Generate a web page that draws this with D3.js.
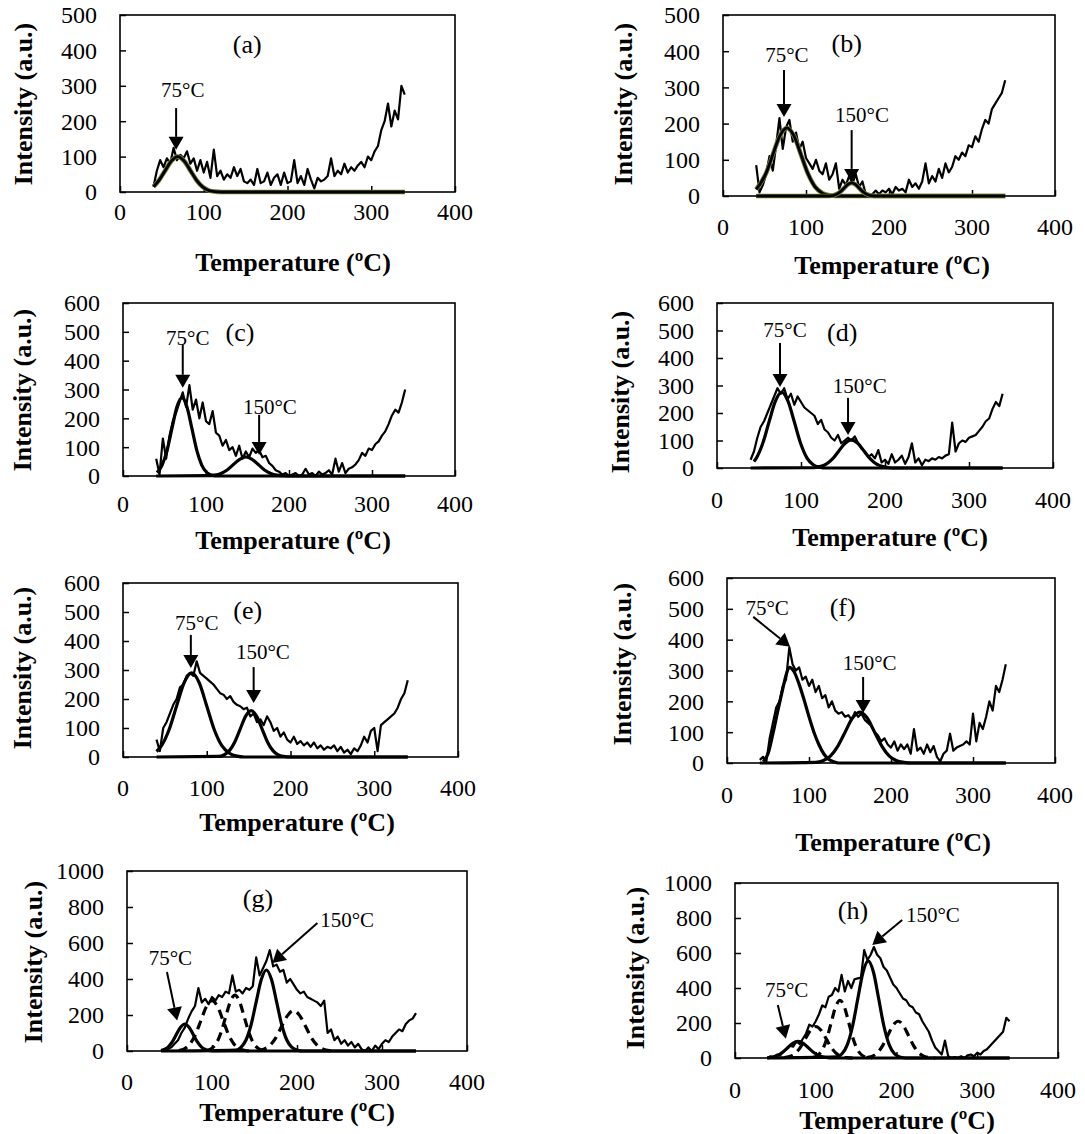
<!DOCTYPE html>
<html>
<head>
<meta charset="utf-8">
<title>TPD panels</title>
<script src="https://cdn.jsdelivr.net/npm/d3@7"></script>
<style>
  body { margin: 0; background: #fff; }
</style>
</head>
<body>
<svg id="chart" width="1085" height="1134" font-family="Liberation Serif"></svg>
<script>
// temperature grid (ºC) shared by all measured traces
var temperature = [
  40,44,48,52,56,60,64,68,72,76,80,84,88,92,96,100,104,108,112,
  116,120,124,128,132,136,140,144,148,152,156,160,164,168,172,176,180,184,188,
  192,196,200,204,208,212,216,220,224,228,232,236,240,244,248,252,256,260,264,
  268,272,276,280,284,288,292,296,300,304,308,312,316,320,324,328,332,336,340];

var xTicks = [0, 100, 200, 300, 400];
var yTicks500 = [0, 100, 200, 300, 400, 500];
var yTicks600 = [0, 100, 200, 300, 400, 500, 600];
var yTicks1000 = [0, 200, 400, 600, 800, 1000];

// measured intensity (a.u.)
var intensityA = [
  15,60,90,70,95,80,125,90,105,95,115,80,95,60,90,55,85,40,120,
  45,60,35,50,40,70,45,65,30,25,35,20,65,25,30,55,20,40,50,
  20,55,25,30,90,25,45,20,65,35,10,40,30,35,45,95,45,60,50,
  80,55,70,60,75,85,70,100,90,115,130,175,200,250,185,230,205,300,275];
var intensityB = [
  85,10,30,60,110,70,140,215,130,190,210,150,175,130,150,105,90,75,100,
  70,60,90,45,60,90,20,45,30,55,35,60,25,40,5,0,5,15,5,
  15,10,20,5,25,15,20,10,45,25,35,20,40,90,35,55,40,75,50,
  90,65,80,110,100,120,110,140,135,165,150,185,210,200,240,255,270,285,320];
var intensityC = [
  60,5,130,60,140,190,220,255,290,240,315,230,265,200,255,190,180,225,150,
  140,105,125,90,100,70,105,60,85,65,95,80,90,65,70,45,35,20,15,
  5,10,0,5,10,0,5,25,5,10,0,15,5,10,20,5,60,15,45,
  10,25,30,40,55,80,70,95,90,110,120,140,155,180,210,230,220,255,300];
var intensityD = [
  30,60,110,150,170,200,230,260,290,270,290,250,270,230,260,240,220,210,200,
  190,160,175,140,130,110,100,120,90,100,110,100,115,90,70,60,40,50,35,
  65,20,30,15,50,20,30,45,15,40,90,20,35,10,30,25,35,30,40,
  35,45,50,165,60,90,100,95,110,115,120,135,150,170,180,215,240,225,270];
var intensityE = [
  60,20,100,120,150,180,200,240,250,280,290,280,330,290,280,270,260,250,235,
  220,215,200,210,190,180,175,165,170,140,150,120,130,110,140,120,90,100,70,
  85,60,50,70,45,55,40,50,35,50,30,40,25,35,30,40,20,35,15,
  25,10,30,20,40,70,50,90,100,20,110,120,130,140,150,170,200,220,265];
var intensityF = [
  10,20,5,80,130,180,200,250,270,375,320,300,310,270,280,250,270,230,250,
  210,220,180,200,170,160,165,150,155,140,165,150,160,140,130,120,100,90,70,
  80,60,50,70,40,60,45,60,30,110,40,50,30,60,35,55,20,5,30,
  40,95,40,50,55,60,70,60,160,70,130,110,150,200,170,250,230,270,320];
var intensityG = [
  0,5,10,20,40,60,100,130,180,220,250,350,270,290,260,300,280,310,300,
  330,320,420,330,340,320,350,340,360,520,420,460,500,560,470,480,440,450,380,
  400,370,340,320,330,300,290,280,270,250,280,100,120,60,80,40,60,30,50,
  20,40,10,0,20,0,30,10,40,60,50,80,100,120,110,150,170,180,210];
var intensityH = [
  0,10,5,20,15,35,50,70,65,95,80,110,140,190,180,210,250,300,290,
  350,360,400,380,475,380,440,400,450,455,460,617,560,590,634,590,570,520,500,
  460,420,400,370,340,330,300,290,260,250,210,180,150,100,60,40,20,100,10,
  0,5,0,10,0,15,20,10,30,20,40,50,70,90,110,130,150,230,210];

// fitted peaks: [temperature, intensity]
var fitA = [[40,15],[46.5,33],[54,61],[61.5,88],[69,100],[76.5,88],[84,61],[91.5,33],[99,14],[106.5,4],[114,1],[122,0],[340,0]];
var fitB1 = [[40,18],[51.5,61],[60,114],[68.5,166],[77,188],[85.5,166],[94,114],[102.5,61],[111,25],[119.5,8],[128,2],[136,0],[340,0]];
var fitB2 = [[40,0],[128,0],[137,5],[141.5,12],[146,22],[150.5,32],[155,36],[159.5,32],[164,22],[168.5,12],[173,5],[182,0],[340,0]];
var fitC1 = [[41,12],[47,37],[53,88],[59,165],[65,240],[71,272],[77,240],[83,165],[89,88],[95,37],[101,12],[107,3],[113,0],[340,0]];
var fitC2 = [[40,0],[103,1],[110.5,3],[118,9],[125.5,21],[133,40],[140.5,58],[148,66],[155.5,58],[163,40],[170.5,21],[178,9],[185.5,3],[193,1],[200,0],[340,0]];
var fitD1 = [[44,24],[47,37],[54.5,90],[62,168],[69.5,243],[77,276],[84.5,243],[92,168],[99.5,90],[107,37],[114.5,12],[122,3],[130,0],[340,0]];
var fitD2 = [[40,0],[115,1],[122.5,5],[130,14],[137.5,33],[145,62],[152.5,90],[160,102],[167.5,90],[175,62],[182.5,33],[190,14],[197.5,5],[205,1],[212,0],[340,0]];
var fitE1 = [[40,19],[46,39],[55,94],[64,176],[73,256],[82,290],[91,256],[100,176],[109,94],[118,39],[127,13],[136,3],[145,0],[340,0]];
var fitE2 = [[40,0],[114,2],[120.5,7],[127,22],[133.5,52],[140,97],[146.5,141],[153,160],[159.5,141],[166,97],[172.5,52],[179,22],[185.5,7],[192,2],[200,0],[340,0]];
var fitF1 = [[44,5],[50,30],[56,95],[62,170],[68,240],[72,285],[76,310],[82,295],[88,255],[94,205],[100,150],[106,100],[112,60],[118,30],[124,12],[130,4],[136,0],[340,0]];
var fitF2 = [[40,0],[108,2],[117,7],[126,22],[135,54],[144,100],[153,146],[162,165],[171,146],[180,100],[189,54],[198,22],[207,7],[216,2],[225,0],[340,0]];
var fitG1 = [[40,3],[43,7],[48,20],[53,49],[58,91],[63,132],[68,150],[73,132],[78,91],[83,49],[88,20],[93,7],[98,2],[105,0],[340,0]];
var fitG2 = [[40,0],[128,5],[134,20],[140,61],[146,146],[152,273],[158,397],[164,450],[170,397],[176,273],[182,146],[188,61],[194,20],[200,5],[208,0],[340,0]];
var dashG1 = [[61,3],[67.5,12],[74,38],[80.5,91],[87,170],[93.5,247],[100,280],[106.5,247],[113,170],[119.5,91],[126,38],[132.5,12],[139,3],[146,0]];
var dashG2 = [[94,3],[99.5,14],[105,42],[110.5,101],[116,188],[121.5,273],[127,310],[132.5,273],[138,188],[143.5,101],[149,42],[154.5,14],[160,3],[166,0]];
var dashG3 = [[154,2.5],[161,10],[168,30],[175,73],[182,137],[189,198],[196,225],[203,198],[210,137],[217,73],[224,30],[231,10],[238,2.5],[246,0]];
var fitH1 = [[40,1],[45.5,4],[52,13],[58.5,31],[65,58],[71.5,84],[78,95],[84.5,84],[91,58],[97.5,31],[104,13],[110.5,4],[117,1],[125,0],[340,0]];
var fitH2 = [[40,0],[126,6],[132.5,24],[139,75],[145.5,180],[152,337],[158.5,490],[165,555],[171.5,490],[178,337],[184.5,180],[191,75],[197.5,24],[204,6],[212,0],[340,0]];
var dashH1 = [[61,2],[67.5,8],[74,24],[80.5,58],[87,109],[93.5,159],[100,180],[106.5,159],[113,109],[119.5,58],[126,24],[132.5,8],[139,2],[146,0]];
var dashH2 = [[97,4],[102.5,15],[108,45],[113.5,107],[119,200],[124.5,291],[130,330],[135.5,291],[141,200],[146.5,107],[152,45],[157.5,15],[163,4],[170,0]];
var dashH3 = [[163,2],[169.5,9],[176,28],[182.5,68],[189,127],[195.5,185],[202,210],[208.5,185],[215,127],[221.5,68],[228,28],[234.5,9],[241,2],[248,0]];

// panel layout + annotations (annotation coords are in data units)
var panels = [
  {tag:"(a)", tagAt:[152,418], data:intensityA, fits:[fitA], dashes:[], fringe:true,
   box:{l:120,r:455,t:15,b:192}, yTicks:yTicks500, xLabelY:212, xTitle:[293,262], yTitle:[23,104],
   notes:[{t:"75°C", at:[75,288], from:[67,237], to:[67,119]}]},
  {tag:"(b)", tagAt:[149,423], data:intensityB, fits:[fitB1,fitB2], dashes:[], fringe:true,
   box:{l:723,r:1055,t:15,b:196}, yTicks:yTicks500, xLabelY:227, xTitle:[892,265], yTitle:[623,104],
   notes:[{t:"75°C", at:[77,390], from:[73.5,348], to:[73.5,218]},
          {t:"150°C", at:[167.5,224], from:[155,182], to:[155,39]}]},
  {tag:"(c)", tagAt:[141,500], data:intensityC, fits:[fitC1,fitC2], dashes:[],
   box:{l:123,r:455,t:303,b:476}, yTicks:yTicks600, xLabelY:504, xTitle:[293,540], yTitle:[22,390],
   notes:[{t:"75°C", at:[78,479], from:[72,455], to:[72,306]},
          {t:"150°C", at:[177,240], from:[164,212], to:[164,73]}]},
  {tag:"(d)", tagAt:[149,495], data:intensityD, fits:[fitD1,fitD2], dashes:[],
   box:{l:717,r:1053,t:303,b:468}, yTicks:yTicks600, xLabelY:500, xTitle:[890,537], yTitle:[620,392],
   notes:[{t:"75°C", at:[81,502], from:[75,455], to:[75,295]},
          {t:"150°C", at:[170,298], from:[156,255], to:[156,120]}]},
  {tag:"(e)", tagAt:[149,507], data:intensityE, fits:[fitE1,fitE2], dashes:[],
   box:{l:123,r:458,t:583,b:757}, yTicks:yTicks600, xLabelY:788, xTitle:[297,822], yTitle:[22,668],
   notes:[{t:"75°C", at:[88,462], from:[81,421], to:[81,307]},
          {t:"150°C", at:[167,362], from:[156,310], to:[156,186]}]},
  {tag:"(f)", tagAt:[141,506], data:intensityF, fits:[fitF1,fitF2], dashes:[],
   box:{l:727,r:1055,t:578,b:763}, yTicks:yTicks600, xLabelY:795, xTitle:[893,842], yTitle:[622,664],
   notes:[{t:"75°C", at:[49,503], from:[32,474], to:[77,377]},
          {t:"150°C", at:[174,325], from:[166,279], to:[166,162]}]},
  {tag:"(g)", tagAt:[154,850], data:intensityG, fits:[fitG1,fitG2], dashes:[dashG1,dashG2,dashG3],
   box:{l:127,r:467,t:871,b:1051}, yTicks:yTicks1000, xLabelY:1082, xTitle:[297,1112], yTitle:[33,962],
   notes:[{t:"75°C", at:[51,517], from:[47,439], to:[59,170]},
          {t:"150°C", at:[259,728], from:[224,711], to:[171,489]}]},
  {tag:"(h)", tagAt:[146,846], data:intensityH, fits:[fitH1,fitH2], dashes:[dashH1,dashH2,dashH3],
   box:{l:735,r:1058,t:883,b:1058}, yTicks:yTicks1000, xLabelY:1090, xTitle:[897,1120], yTitle:[635,968],
   notes:[{t:"75°C", at:[64,389], from:[53,303], to:[63,110]},
          {t:"150°C", at:[245,817], from:[207,789], to:[170,646]}]}
];

var serif = "'Liberation Serif', 'Times New Roman', serif";
var svg = d3.select("#chart");

function arrow(g, x1, y1, x2, y2) {
  var dx = x2 - x1, dy = y2 - y1,
      len = Math.sqrt(dx * dx + dy * dy),
      ux = dx / len, uy = dy / len,
      hl = 13, hw = 7.5,
      bx = x2 - ux * hl, by = y2 - uy * hl;
  g.append("line")
      .attr("x1", x1).attr("y1", y1).attr("x2", bx).attr("y2", by)
      .attr("stroke", "#000").attr("stroke-width", 2);
  g.append("path")
      .attr("d", "M" + x2 + "," + y2 +
                 "L" + (bx - uy * hw) + "," + (by + ux * hw) +
                 "L" + (bx + uy * hw) + "," + (by - ux * hw) + "Z")
      .attr("fill", "#000");
}

function label(g, x, y, size, str, bold) {
  return g.append("text")
      .attr("x", x).attr("y", y).attr("dy", "0.35em")
      .attr("text-anchor", "middle")
      .style("font-family", serif)
      .style("font-size", size + "px")
      .style("font-weight", bold ? "bold" : "normal")
      .style("fill", "#000")
      .text(str);
}

panels.forEach(function(p) {
  var g = svg.append("g");
  var x = d3.scaleLinear().domain([0, 400]).range([p.box.l, p.box.r]);
  var y = d3.scaleLinear().domain([0, d3.max(p.yTicks)]).range([p.box.b, p.box.t]);

  // y axis: inward ticks, labels on the left
  g.append("g")
      .attr("transform", "translate(" + p.box.l + ",0)")
      .call(d3.axisRight(y).tickValues(p.yTicks).tickSize(6).tickFormat(""))
      .call(function(a) { a.select(".domain").remove(); a.selectAll("line").attr("stroke-width", 1.5); });
  p.yTicks.forEach(function(d) {
    label(g, p.box.l - 23, y(d), 24, d).attr("text-anchor", "end");
  });

  // x axis: inward ticks
  g.append("g")
      .attr("transform", "translate(0," + p.box.b + ")")
      .call(d3.axisTop(x).tickValues(xTicks).tickSize(6).tickFormat(""))
      .call(function(a) { a.select(".domain").remove(); a.selectAll("line").attr("stroke-width", 1.5); });
  xTicks.forEach(function(d) {
    label(g, x(d), p.xLabelY, 24, d);
  });

  // frame
  g.append("rect")
      .attr("x", p.box.l).attr("y", p.box.t)
      .attr("width", p.box.r - p.box.l).attr("height", p.box.b - p.box.t)
      .attr("fill", "none").attr("stroke", "#000").attr("stroke-width", 1.6);

  // titles
  label(g, p.xTitle[0], p.xTitle[1], 26, "Temperature (ºC)", true);
  label(g, 0, 0, 26, "Intensity (a.u.)", true)
      .attr("transform", "translate(" + p.yTitle[0] + "," + p.yTitle[1] + ") rotate(-90)");

  var measured = d3.line()
      .x(function(d, i) { return x(temperature[i]); })
      .y(function(d) { return y(d); });
  var fitted = d3.line()
      .x(function(d) { return x(d[0]); })
      .y(function(d) { return y(d[1]); })
      .curve(d3.curveMonotoneX);

  g.append("path")
      .datum(p.data)
      .attr("fill", "none").attr("stroke", "#000")
      .attr("stroke-width", 2.2).attr("stroke-linejoin", "round")
      .attr("d", measured);

  p.dashes.forEach(function(f) {
    g.append("path").datum(f)
        .attr("fill", "none").attr("stroke", "#000")
        .attr("stroke-width", 3.2).attr("stroke-dasharray", "9,6")
        .attr("d", fitted);
  });
  p.fits.forEach(function(f) {
    if (p.fringe) {
      g.append("path").datum(f)
          .attr("fill", "none").attr("stroke", "#6f7f2f").attr("stroke-width", 4.6)
          .attr("d", fitted);
    }
    g.append("path").datum(f)
        .attr("fill", "none").attr("stroke", "#000")
        .attr("stroke-width", p.fringe ? 2.8 : 3.2).attr("stroke-linejoin", "round")
        .attr("d", fitted);
  });

  // panel tag and peak labels
  label(g, x(p.tagAt[0]), y(p.tagAt[1]), 26, p.tag);
  p.notes.forEach(function(n) {
    label(g, x(n.at[0]), y(n.at[1]), 21, n.t);
    arrow(g, x(n.from[0]), y(n.from[1]), x(n.to[0]), y(n.to[1]));
  });
});
</script>
</body>
</html>
